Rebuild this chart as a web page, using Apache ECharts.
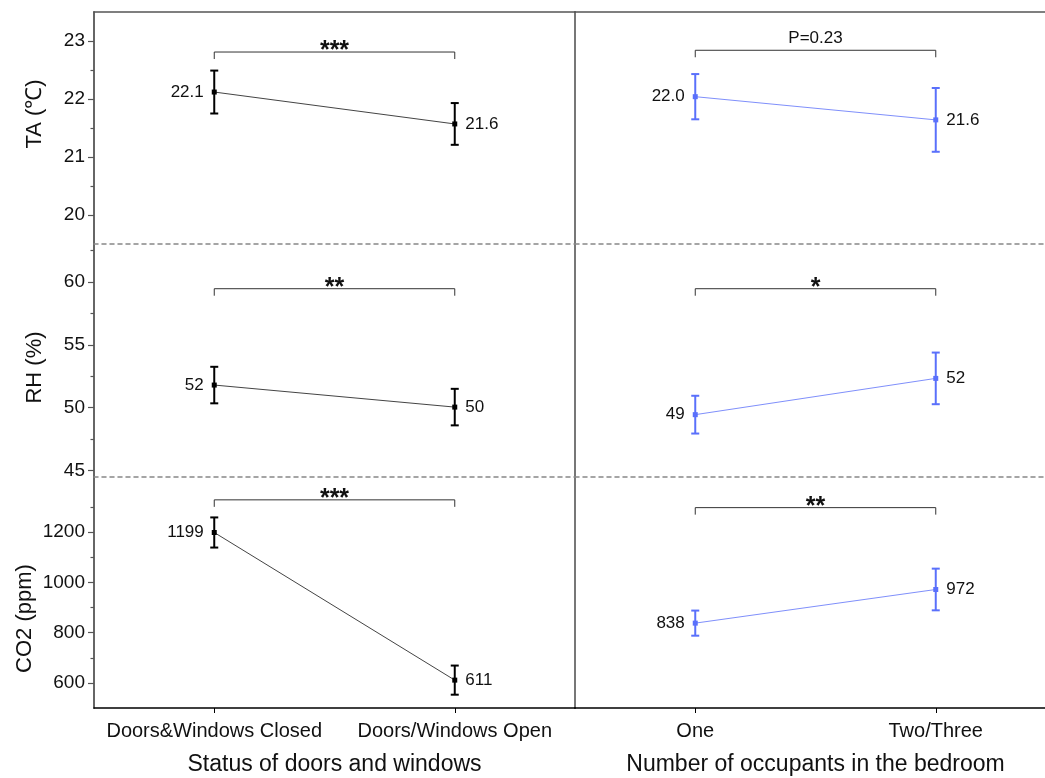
<!DOCTYPE html>
<html>
<head>
<meta charset="utf-8">
<script src="https://cdn.jsdelivr.net/npm/echarts@6/dist/echarts.min.js"></script>
<style>
html,body{margin:0;padding:0;background:#fff;}
#chart{width:1045px;height:778px;}
</style>
</head>
<body>
<div id="chart"></div>
<script>
// ---------------- data ----------------
const doorCategories = ['Doors&Windows Closed', 'Doors/Windows Open'];
const occCategories = ['One', 'Two/Three'];

const taDoorMean = [22.12, 21.57];
const taDoorSD = [0.37, 0.36];
const taOccMean = [22.04, 21.64];
const taOccSD = [0.39, 0.55];

const rhDoorMean = [51.8, 50.05];
const rhDoorSD = [1.45, 1.45];
const rhOccMean = [49.45, 52.33];
const rhOccSD = [1.5, 2.05];

const co2DoorMean = [1199, 611];
const co2DoorSD = [60, 58];
const co2OccMean = [838, 972];
const co2OccSD = [50, 83];

const sigDoor = ['***', '**', '***'];
const sigOcc = ['P=0.23', '*', '**'];
const sigDoorLevel = [22.81, 59.45, 1329];
const sigOccLevel = [22.84, 59.45, 1298];

const yNames = ['TA (\u2103)', 'RH (%)', 'CO2 (ppm)'];
const yRange = [[19.5, 23.5, 0.5], [44.5, 63, 0.5], [500, 1420, 20]];
const yMajor = [[20, 21, 22, 23], [45, 50, 55, 60], [600, 800, 1000, 1200]];
const yMinor = [[20.5, 21.5, 22.5], [47.5, 52.5, 57.5, 62.5], [700, 900, 1100, 1300]];
const labelDecimals = [1, 0, 0];
const xNames = ['Status of doors and windows', 'Number of occupants in the bedroom'];

// --------------- layout ---------------
const FONT = '"Liberation Sans", Arial, Helvetica, sans-serif';
const colLeft = [94, 575];
const colWidth = 481;
const rowTop = [12, 244, 477];
const rowHeight = [232, 233, 231];
// padding shifts the rotated y titles along the axis (local left = up, local right = down)
const yNamePad = [[0, 0, 0, 28], [0, 14, 0, 0], [0, 52, 0, 0]];
const BLACK = '#111';
const BLUE = '#5a70fb';
const BLUE_LINE = '#7f8ffb';

const grids = [];
const xAxes = [];
const yAxes = [];
const series = [];

const panels = [
  [taDoorMean, taDoorSD, taOccMean, taOccSD],
  [rhDoorMean, rhDoorSD, rhOccMean, rhOccSD],
  [co2DoorMean, co2DoorSD, co2OccMean, co2OccSD]
];

for (let r = 0; r < 3; r++) {
  for (let c = 0; c < 2; c++) {
    const g = r * 2 + c;
    grids.push({left: colLeft[c], top: rowTop[r], width: colWidth, height: rowHeight[r],
                containLabel: false, outerBoundsMode: 'none'});
    const cats = c === 0 ? doorCategories : occCategories;
    if (r < 2) {
      xAxes.push({
        type: 'category', gridIndex: g, data: cats, position: 'top',
        axisLine: {show: true, lineStyle: r === 0 ? {color: '#555', width: 1.5} : {color: '#888', width: 1.5, type: [4, 4]}},
        axisTick: {show: false}, axisLabel: {show: false}, splitLine: {show: false}
      });
    } else {
      xAxes.push({
        type: 'category', gridIndex: g, data: cats, position: 'bottom',
        axisLine: {show: true, lineStyle: {color: '#000', width: 1.5}},
        axisTick: {show: true, alignWithLabel: true, length: 5, lineStyle: {color: '#000', width: 1}},
        axisLabel: {show: true, interval: 0, hideOverlap: false, fontSize: 20, color: BLACK, margin: 13, fontFamily: FONT},
        name: xNames[c], nameLocation: 'middle', nameGap: 45,
        nameTextStyle: {fontSize: 23, color: BLACK, fontFamily: FONT},
        splitLine: {show: false}
      });
    }
    if (c === 0) {
      yAxes.push({
        type: 'value', gridIndex: g, position: 'left',
        min: yRange[r][0], max: yRange[r][1], interval: yRange[r][2],
        axisLine: {show: true, lineStyle: {color: '#666', width: 2}},
        axisTick: {show: true, length: 6, customValues: yMajor[r], lineStyle: {color: '#555', width: 1.2}},
        axisLabel: {show: true, customValues: yMajor[r], fontSize: 19, color: BLACK, margin: 9, fontFamily: FONT,
                    formatter: v => String(v)},
        splitLine: {show: false},
        name: yNames[r], nameLocation: 'middle', nameGap: r === 2 ? 58 : 48,
        nameTextStyle: {fontSize: 22, color: BLACK, fontFamily: FONT, padding: yNamePad[r]}
      });
    } else {
      yAxes.push({
        type: 'value', gridIndex: g, position: 'left',
        min: yRange[r][0], max: yRange[r][1], interval: yRange[r][2],
        axisLine: {show: true, lineStyle: {color: '#777', width: 2}},
        axisTick: {show: false}, axisLabel: {show: false}, splitLine: {show: false}
      });
    }
  }
}
// extra dashed top lines for the bottom row
for (let c = 0; c < 2; c++) {
  xAxes.push({
    type: 'category', gridIndex: 4 + c, data: c === 0 ? doorCategories : occCategories, position: 'top',
    axisLine: {show: true, lineStyle: {color: '#888', width: 1.5, type: [4, 4]}},
    axisTick: {show: false}, axisLabel: {show: false}, splitLine: {show: false}
  });
}
// minor tick axes for the left column
for (let r = 0; r < 3; r++) {
  yAxes.push({
    type: 'value', gridIndex: r * 2, position: 'left', offset: 0,
    min: yRange[r][0], max: yRange[r][1], interval: yRange[r][2],
    axisLine: {show: false},
    axisTick: {show: true, length: 3.5, customValues: yMinor[r], lineStyle: {color: '#555', width: 1.2}},
    axisLabel: {show: false}, splitLine: {show: false}
  });
}

function errorBars(g, means, sds, color, width) {
  return {
    type: 'custom', xAxisIndex: g, yAxisIndex: g, z: 3, silent: true,
    data: means.map((m, i) => [i, m - sds[i], m + sds[i]]),
    renderItem: function (params, api) {
      const lo = api.coord([api.value(0), api.value(1)]);
      const hi = api.coord([api.value(0), api.value(2)]);
      const cw = 4;
      const st = {stroke: color, lineWidth: width};
      return {type: 'group', children: [
        {type: 'line', shape: {x1: lo[0], y1: lo[1], x2: hi[0], y2: hi[1]}, style: st},
        {type: 'line', shape: {x1: lo[0] - cw, y1: lo[1], x2: lo[0] + cw, y2: lo[1]}, style: st},
        {type: 'line', shape: {x1: hi[0] - cw, y1: hi[1], x2: hi[0] + cw, y2: hi[1]}, style: st}
      ]};
    }
  };
}

function bracket(g, level, text) {
  const isAst = text.indexOf('*') === 0;
  return {
    type: 'custom', xAxisIndex: g, yAxisIndex: g, z: 2, silent: true,
    data: [[0, 1, level]],
    renderItem: function (params, api) {
      const p0 = api.coord([api.value(0), api.value(2)]);
      const p1 = api.coord([api.value(1), api.value(2)]);
      const leg = 7;
      return {type: 'group', children: [
        {type: 'polyline', shape: {points: [[p0[0], p0[1] + leg], [p0[0], p0[1]], [p1[0], p1[1]], [p1[0], p1[1] + leg]]},
         style: {stroke: '#333', lineWidth: 1, fill: null}},
        {type: 'text', x: (p0[0] + p1[0]) / 2, y: isAst ? p0[1] - 1 : p0[1] - 3,
         style: {text: text, fontSize: isAst ? 25 : 17, fontWeight: isAst ? 'bold' : 'normal', fontFamily: FONT, fill: BLACK,
                 align: 'center', verticalAlign: isAst ? 'middle' : 'bottom'}}
      ]};
    }
  };
}

function points(g, means, color, lineColor, dec) {
  return {
    type: 'line', xAxisIndex: g, yAxisIndex: g, z: 4,
    symbol: 'rect', symbolSize: 5,
    lineStyle: {color: lineColor, width: 1},
    itemStyle: {color: color},
    label: {show: true, fontSize: 17, color: BLACK, fontFamily: FONT, distance: 8,
            formatter: p => Number(p.value).toFixed(dec)},
    data: means.map((v, i) => ({value: v, label: {position: i === 0 ? 'left' : 'right'}}))
  };
}

for (let r = 0; r < 3; r++) {
  const [dm, ds, om, os] = panels[r];
  const gL = r * 2, gR = r * 2 + 1;
  series.push(points(gL, dm, '#000', '#444', labelDecimals[r]));
  series.push(errorBars(gL, dm, ds, '#000', 2));
  series.push(bracket(gL, sigDoorLevel[r], sigDoor[r]));
  series.push(points(gR, om, BLUE, BLUE_LINE, labelDecimals[r]));
  series.push(errorBars(gR, om, os, BLUE, 2));
  series.push(bracket(gR, sigOccLevel[r], sigOcc[r]));
}

const chart = echarts.init(document.getElementById('chart'), null, {renderer: 'canvas'});
chart.setOption({
  animation: false,
  backgroundColor: '#fff',
  textStyle: {fontFamily: FONT},
  grid: grids,
  xAxis: xAxes,
  yAxis: yAxes,
  series: series
});
</script>
</body>
</html>
